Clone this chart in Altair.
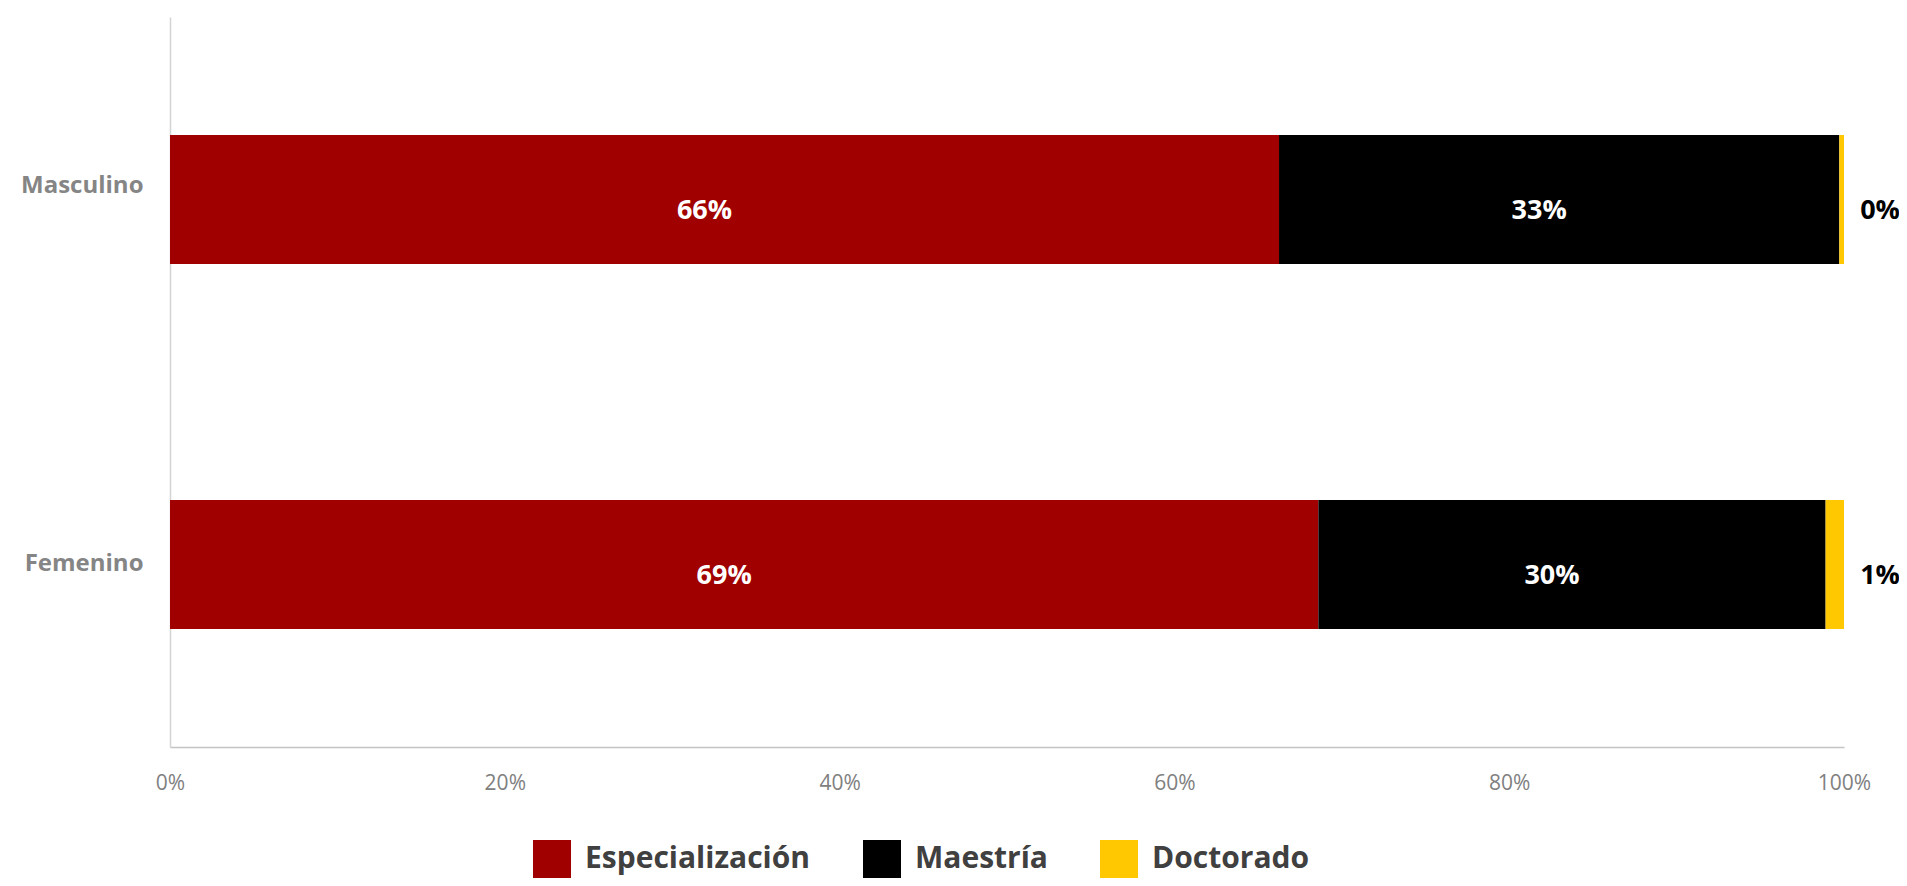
import altair as alt
import pandas as pd

generos = ["Masculino", "Femenino"]
niveles = ["Especialización", "Maestría", "Doctorado"]
colores = ["#A00000", "#000000", "#FFC800"]
masculino = [0.6625, 0.3347, 0.0028]
femenino = [0.686, 0.303, 0.011]
x_ticks = [0, 0.2, 0.4, 0.6, 0.8, 1.0]

rows = []
for g, vals in zip(generos, [masculino, femenino]):
    for i, (n, v) in enumerate(zip(niveles, vals)):
        rows.append({"genero": g, "nivel": n, "valor": v, "orden": i})
df = pd.DataFrame(rows)

FONT = "Open Sans"

base = alt.Chart(df).transform_stack(
    stack="valor", as_=["x0", "x1"], groupby=["genero"],
    sort=[alt.SortField("orden", order="ascending")]
)

x_scale = alt.Scale(domain=[0, 1], nice=False, zero=True)
x_axis = alt.Axis(values=x_ticks, format=".0%", grid=False, ticks=False,
                  domain=True, domainColor="#c4c4c4", domainWidth=1.5,
                  labelFont=FONT, labelFontSize=21, labelColor="#808080",
                  labelPadding=25, labelFlush=False)
y_enc = alt.Y("genero:N", sort=generos, title=None,
              scale=alt.Scale(paddingInner=0.6466, paddingOuter=0.3233),
              axis=alt.Axis(ticks=False, domain=True, domainColor="#d4d4d4",
                            domainWidth=1.5, labelFont=FONT, labelFontSize=24,
                            labelFontWeight="bold", labelColor="#858585",
                            labelPadding=27,
                            labelOffset={"condition": {"test": "datum.value == 'Masculino'", "value": -14},
                                         "value": -1},
                            labelLimit=0))

bars = base.mark_bar().encode(
    x=alt.X("x0:Q", scale=x_scale, axis=x_axis, title=None),
    x2="x1:Q",
    y=y_enc,
    color=alt.Color("nivel:N", sort=niveles,
                    scale=alt.Scale(domain=niveles, range=colores),
                    legend=alt.Legend(orient="none", legendX=363, legendY=823,
                                      direction="horizontal", columns=3,
                                      title=None, symbolType="square",
                                      symbolSize=1444, symbolStrokeWidth=0,
                                      symbolOpacity=1,
                                      labelFont=FONT, labelFontSize=30,
                                      labelFontWeight="bold",
                                      labelColor="#404040", labelOffset=14,
                                      columnPadding=52, padding=0,
                                      labelLimit=0)),
    order=alt.Order("orden:Q"),
)

inside = base.transform_filter(
    alt.datum.nivel != "Doctorado"
).transform_calculate(
    mid="(datum.x0 + datum.x1) / 2"
).mark_text(
    color="white", font=FONT, fontSize=27, fontWeight="bold",
    align="center", baseline="middle", dx=-20, dy=11
).encode(
    x=alt.X("mid:Q", scale=x_scale, axis=x_axis, title=None),
    y=y_enc,
    text=alt.Text("valor:Q", format=".0%"),
)

outside = base.transform_filter(
    alt.datum.nivel == "Doctorado"
).mark_text(
    color="black", font=FONT, fontSize=27, fontWeight="bold",
    align="center", baseline="middle", dx=36, dy=11
).encode(
    x=alt.X("x1:Q", scale=x_scale, axis=x_axis, title=None),
    y=y_enc,
    text=alt.Text("valor:Q", format=".0%"),
)

chart = alt.layer(bars, inside, outside).properties(
    width=1674, height=730,
    padding={"left": 162, "top": 9, "right": 55, "bottom": 131},
    autosize=alt.AutoSizeParams(type="none"),
    background="white",
).configure_view(stroke=None)

chart.save("out.html", embed_options={"renderer": "svg", "actions": False})
